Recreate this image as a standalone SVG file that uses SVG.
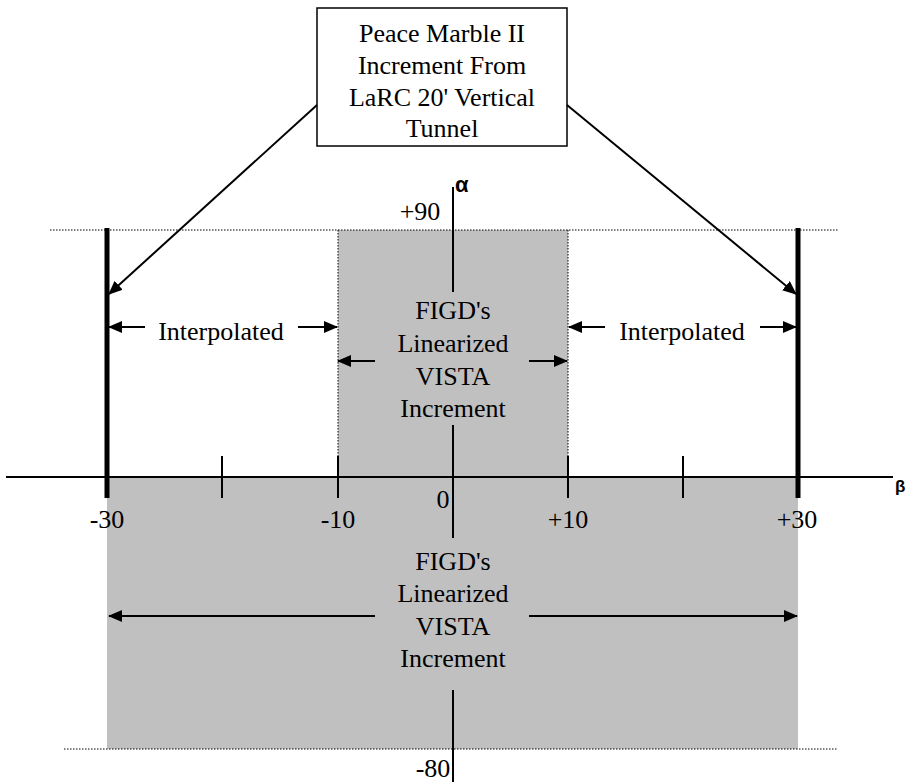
<svg xmlns="http://www.w3.org/2000/svg" width="914" height="782" viewBox="0 0 914 782">
<defs>
<style>
.t{font-family:"Liberation Serif","Times New Roman",serif;font-size:26px;fill:#000;text-anchor:middle}
.sym{font-family:"Liberation Sans",Arial,sans-serif;font-weight:bold;fill:#000}
.ln{stroke:#000;stroke-width:2;fill:none}
.thick{stroke:#000;stroke-width:5;fill:none}
.dot{stroke:#000;stroke-width:1;stroke-dasharray:1.5 1.5;fill:none}
.arr{stroke:#000;stroke-width:2;fill:none;marker-end:url(#ah)}
.gray{fill:#c0c0c0}
</style>
<marker id="ah" markerUnits="userSpaceOnUse" markerWidth="14" markerHeight="12" refX="13" refY="6" orient="auto">
<path d="M0,0 L14,6 L0,12 z" fill="#000"/>
</marker>
</defs>
<rect width="914" height="782" fill="#fff"/>
<g id="regions">
<rect class="gray" x="338" y="230" width="230" height="247"/>
<rect class="gray" x="107" y="477" width="691" height="272"/>
<line class="dot" x1="50" y1="230" x2="838" y2="230"/>
<line class="dot" x1="338" y1="230" x2="338" y2="477"/>
<line class="dot" x1="568" y1="230" x2="568" y2="477"/>
<line class="dot" x1="64" y1="749" x2="838" y2="749"/>
</g>
<g id="axes">
<line class="ln" x1="6" y1="477" x2="893" y2="477" stroke-width="3"/>
<line class="ln" x1="453" y1="187" x2="453" y2="292"/>
<line class="ln" x1="453" y1="425" x2="453" y2="538"/>
<line class="ln" x1="453" y1="690" x2="453" y2="782"/>
<line class="ln" x1="222" y1="456" x2="222" y2="498"/>
<line class="ln" x1="338" y1="456" x2="338" y2="498"/>
<line class="ln" x1="568" y1="456" x2="568" y2="498"/>
<line class="ln" x1="683" y1="456" x2="683" y2="498"/>
<line class="thick" x1="107" y1="228" x2="107" y2="498"/>
<line class="thick" x1="798" y1="228" x2="798" y2="498"/>
<text class="sym" x="455" y="192" font-size="22">α</text>
<text class="sym" x="895" y="492" font-size="17">β</text>
<text class="t" x="420" y="220">+90</text>
<text class="t" x="107" y="528">-30</text>
<text class="t" x="338" y="528">-10</text>
<text class="t" x="443" y="508">0</text>
<text class="t" x="568" y="528">+10</text>
<text class="t" x="797" y="528">+30</text>
<text class="t" x="433" y="777">-80</text>
</g>
<g id="source-box">
<rect x="317" y="8" width="250" height="138" fill="#fff" stroke="#000" stroke-width="1.5"/>
<text class="t" x="442" y="42">Peace Marble II</text>
<text class="t" x="442" y="74">Increment From</text>
<text class="t" x="442" y="106">LaRC 20' Vertical</text>
<text class="t" x="442" y="137">Tunnel</text>
</g>
<g id="inner-label">
<text class="t" x="453" y="319">FIGD's</text>
<text class="t" x="453" y="352">Linearized</text>
<text class="t" x="453" y="385">VISTA</text>
<text class="t" x="453" y="417">Increment</text>
</g>
<g id="left-label"><text class="t" x="221" y="340">Interpolated</text></g>
<g id="right-label"><text class="t" x="682" y="340">Interpolated</text></g>
<g id="outer-label">
<text class="t" x="453" y="570">FIGD's</text>
<text class="t" x="453" y="602">Linearized</text>
<text class="t" x="453" y="635">VISTA</text>
<text class="t" x="453" y="667">Increment</text>
</g>
<g id="connectors">
<line class="arr" x1="317" y1="105" x2="109" y2="294"/>
<line class="arr" x1="567" y1="105" x2="796" y2="294"/>
<line class="arr" x1="145" y1="327" x2="109" y2="327"/>
<line class="arr" x1="298" y1="327" x2="337" y2="327"/>
<line class="arr" x1="605" y1="327" x2="569" y2="327"/>
<line class="arr" x1="760" y1="327" x2="796" y2="327"/>
<line class="arr" x1="375" y1="361" x2="338" y2="361"/>
<line class="arr" x1="529" y1="361" x2="567" y2="361"/>
<line class="arr" x1="375" y1="616" x2="109" y2="616"/>
<line class="arr" x1="529" y1="616" x2="797" y2="616"/>
</g>
</svg>
